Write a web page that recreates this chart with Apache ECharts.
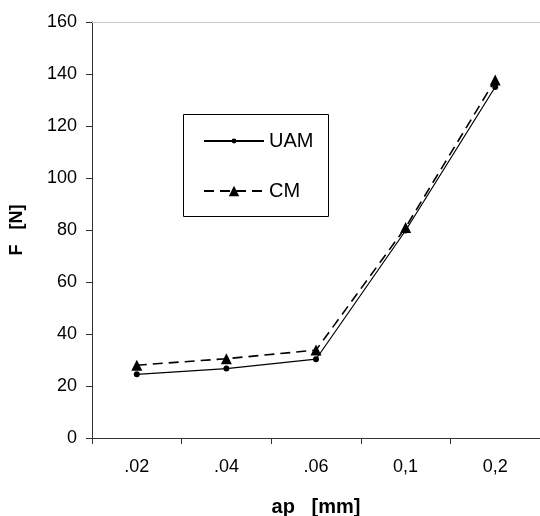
<!DOCTYPE html>
<html><head><meta charset="utf-8">
<script src="https://cdn.jsdelivr.net/npm/echarts@6/dist/echarts.min.js"></script>
<style>html,body{margin:0;padding:0;background:#fff}#c{width:540px;height:516px}</style>
</head><body><div id="c"></div>
<script>
const categories = ['.02', '.04', '.06', '0,1', '0,2'];
const uam = [24.5, 26.7, 30.3, 79.8, 135];
const cm = [28, 30.5, 33.8, 81, 137.7];
const yTicks = { min: 0, max: 160, interval: 20 };

const chart = echarts.init(document.getElementById('c'));
const font = 'Liberation Sans, Arial, sans-serif';
const legendText = { fontFamily: font, fontSize: 20, color: '#000' };
chart.setOption({
  animation: false,
  backgroundColor: '#fff',
  grid: { left: 92, right: 0, top: 22, bottom: 78, outerBoundsMode: 'none', containLabel: false },
  graphic: [{
    type: 'rect', left: 183, top: 114, z: 0,
    shape: { width: 145, height: 102 },
    style: { fill: '#fff', stroke: '#000', lineWidth: 1 }
  }],
  legend: [{
    orient: 'vertical', left: 203, top: 131, padding: 0,
    itemWidth: 60, itemHeight: 6, itemGap: 0,
    textStyle: legendText, data: ['UAM']
  }, {
    orient: 'vertical', left: 203, top: 181, padding: 0,
    itemWidth: 60, itemHeight: 13, itemGap: 0,
    textStyle: legendText, data: ['CM']
  }],
  xAxis: [{
    type: 'category', data: categories, boundaryGap: true,
    name: 'ap   [mm]', nameLocation: 'middle', nameGap: 59,
    nameTextStyle: { fontFamily: font, fontSize: 20, fontWeight: 'bold', color: '#000' },
    axisLine: { lineStyle: { color: '#333', width: 1 } },
    axisTick: { show: true, length: 6, inside: false, lineStyle: { color: '#333' } },
    axisLabel: { fontFamily: font, fontSize: 18, color: '#000', margin: 20 },
    splitLine: { show: false }
  }, {
    type: 'category', data: categories, position: 'top',
    axisLine: { lineStyle: { color: '#c8c8c8', width: 1 } },
    axisTick: { show: false }, axisLabel: { show: false }, splitLine: { show: false }
  }],
  yAxis: {
    type: 'value', min: yTicks.min, max: yTicks.max, interval: yTicks.interval,
    name: 'F   [N]', nameLocation: 'middle', nameGap: 66, nameRotate: 90,
    nameTextStyle: { fontFamily: font, fontSize: 18, fontWeight: 'bold', color: '#000' },
    axisLine: { show: true, lineStyle: { color: '#333', width: 1 } },
    axisTick: { show: true, length: 6, lineStyle: { color: '#333' } },
    axisLabel: { fontFamily: font, fontSize: 18, color: '#000', margin: 15 },
    splitLine: { show: false }
  },
  series: [{
    name: 'UAM', type: 'line', data: uam,
    symbol: 'circle', symbolSize: 6,
    lineStyle: { color: '#000', width: 1.2, type: 'solid' },
    itemStyle: { color: '#000' }
  }, {
    name: 'CM', type: 'line', data: cm,
    symbol: 'triangle', symbolSize: 11,
    lineStyle: { color: '#000', width: 1.6, type: [10, 6] },
    itemStyle: { color: '#000' }
  }]
});
</script></body></html>
